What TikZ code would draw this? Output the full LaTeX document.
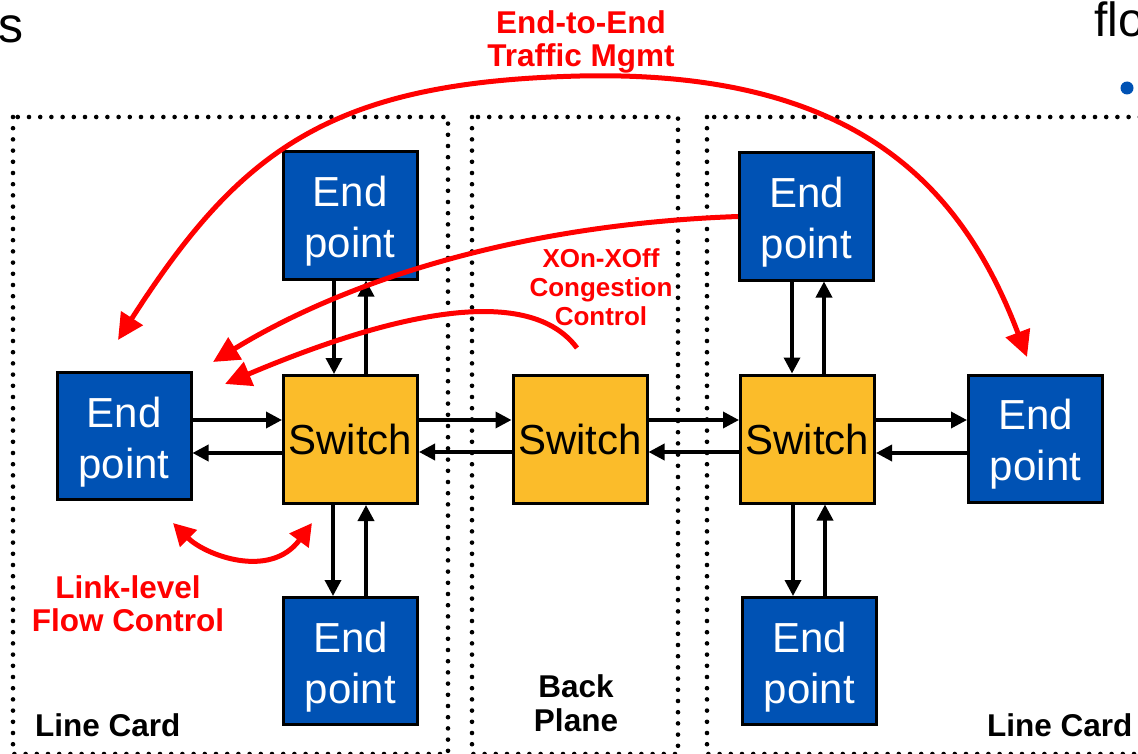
\documentclass[tikz,border=0pt]{standalone}
\usepackage{fontspec}
\setmainfont{Liberation Sans}
\usetikzlibrary{arrows.meta}
\definecolor{epblue}{RGB}{0,82,180}
\definecolor{swyellow}{RGB}{251,188,42}
\definecolor{myred}{RGB}{255,0,0}
\newcommand{\eptext}{\rule{0pt}{42pt}End\\point}
\begin{document}
\begin{tikzpicture}[x=1pt,y=-1pt,
  ep/.style={draw=black, line width=3pt, fill=epblue, text=white, minimum width=134pt, minimum height=127pt, inner sep=0pt, align=center, font=\fontsize{42}{51}\selectfont},
  sw/.style={draw=black, line width=3pt, fill=swyellow, text=black, minimum width=134pt, minimum height=128pt, inner sep=0pt, font=\fontsize{42}{51}\selectfont},
  arr/.style={line width=3.5pt, -{Triangle[length=16pt,width=16pt]}},
  redtwo/.style={myred, line width=5pt, {Triangle[length=26pt,width=25pt]}-{Triangle[length=26pt,width=25pt]}},
  redone/.style={myred, line width=5pt, -{Triangle[length=26pt,width=25pt]}},
  redsmall/.style={myred, line width=5pt, {Triangle[length=22pt,width=23pt]}-{Triangle[length=22pt,width=23pt]}},
  redlbl/.style={text=myred, font=\bfseries\fontsize{26}{29}\selectfont, align=center, inner sep=0pt},
  bigred/.style={text=myred, font=\bfseries\fontsize{31.5}{33}\selectfont, align=center, inner sep=0pt},
  blklbl/.style={text=black, font=\bfseries\fontsize{31.5}{34}\selectfont, inner sep=0pt},
  dotbox/.style={line width=4.6pt, line cap=round, dash pattern=on 0pt off 11.2pt}]
\path[use as bounding box, clip] (0,0) rectangle (1138,754);

% dotted boundaries
\draw[dotbox] (13,117) rectangle (448,754);
\draw[dotbox] (472,117) rectangle (678,754);
\draw[dotbox] (707,117) rectangle (1160,754);

% slide fragments
\node[anchor=base west, inner sep=0pt, font=\fontsize{50}{60}\selectfont] (sfrag) at (-2,43) {s};
\node[anchor=base west, inner sep=0pt, font=\fontsize{48}{58}\selectfont] (flofrag) at (1094,37) {flo};
\fill[epblue] (1127,88) circle (6.5);

% nodes
\node[ep] (epTL) at (350,215.5) {\eptext};
\node[ep] (epL)  at (124,436) {\eptext};
\node[ep] (epBL) at (350.5,661) {\eptext};
\node[ep] (epTR) at (806.5,216.5) {\eptext};
\node[ep] (epR)  at (1035.5,438.5) {\eptext};
\node[ep] (epBR) at (809.5,661) {\eptext};
\node[sw] (swL) at (350.5,439.5) {Switch};
\node[sw] (swM) at (580,439) {Switch};
\node[sw] (swR) at (807.5,439) {Switch};

% horizontal arrows
\draw[arr] (epL.east |- 0,420) -- (swL.west |- 0,420);
\draw[arr] (swL.west |- 0,453) -- (epL.east |- 0,453);
\draw[arr] (swL.east |- 0,420) -- (swM.west |- 0,420);
\draw[arr] (swM.west |- 0,452) -- (swL.east |- 0,452);
\draw[arr] (swM.east |- 0,420) -- (swR.west |- 0,420);
\draw[arr] (swR.west |- 0,452) -- (swM.east |- 0,452);
\draw[arr] (swR.east |- 0,420) -- (epR.west |- 0,420);
\draw[arr] (epR.west |- 0,453) -- (swR.east |- 0,453);

% vertical arrows
\draw[arr] (epTL.south -| 334,0) -- (swL.north -| 334,0);
\draw[arr] (swL.north -| 366,0) -- (epTL.south -| 366,0);
\draw[arr] (swL.south -| 333,0) -- (epBL.north -| 333,0);
\draw[arr] (epBL.north -| 366,0) -- (swL.south -| 366,0);
\draw[arr] (epTR.south -| 792,0) -- (swR.north -| 792,0);
\draw[arr] (swR.north -| 824,0) -- (epTR.south -| 824,0);
\draw[arr] (swR.south -| 793,0) -- (epBR.north -| 793,0);
\draw[arr] (epBR.north -| 825,0) -- (swR.south -| 825,0);

% red connectors
\coordinate (e2eL) at (118,340);
\coordinate (e2eTop) at (580,76);
\coordinate (e2eR) at (1027,357);
\draw[redtwo] (e2eL) .. controls (240,150) and (330,82) .. (e2eTop)
                     .. controls (850,70) and (960,180) .. (e2eR);
\coordinate (xonA) at (213,362);
\draw[redone] (epTR.west) .. controls (500,225) and (330,290) .. (xonA);
\coordinate (xonS) at (577,348);
\coordinate (xonB) at (225,384);
\draw[redone] (xonS) .. controls (530,285) and (400,310) .. (xonB);
\coordinate (llL) at (173,523);
\coordinate (llR) at (312,523);
\draw[redsmall] (llL) .. controls (205,555) and (270,580) .. (llR);

% labels
\node[bigred, anchor=north] (e2etxt) at (581,10) {End-to-End\\Traffic Mgmt};
\node[redlbl, anchor=north] (xontxt) at (601,248) {XOn-XOff\\Congestion\\Control};
\node[bigred, anchor=north] (lltxt) at (128,575) {Link-level\\Flow Control};
\node[blklbl, anchor=base west] (lcL) at (35,736) {Line Card};
\node[blklbl, anchor=base west] (lcR) at (987,736) {Line Card};
\node[blklbl, anchor=base] (bp1) at (576,697) {Back};
\node[blklbl, anchor=base] (bp2) at (576,731) {Plane};
\end{tikzpicture}
\end{document}
